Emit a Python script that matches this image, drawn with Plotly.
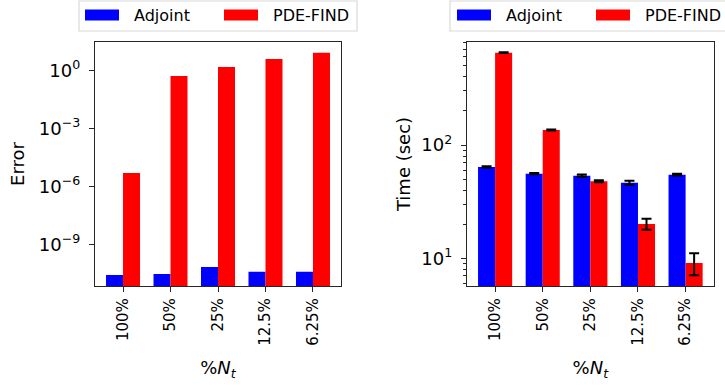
import plotly.graph_objects as go

# Data
categories = ["100%", "50%", "25%", "12.5%", "6.25%"]

error_adjoint = [2.7e-11, 3.0e-11, 7.0e-11, 3.9e-11, 3.9e-11]
error_pdefind = [5.1e-6, 0.53, 1.55, 4.0, 8.3]

time_adjoint = [64.0, 55.9, 53.6, 46.5, 54.7]
time_adjoint_err = [0.8, 0.6, 1.2, 1.8, 1.0]
time_pdefind = [653.0, 135.5, 48.0, 20.1, 9.1]
time_pdefind_err = [6.0, 1.5, 1.0, 2.2, 2.0]

BLUE = "#0000ff"
RED = "#ff0000"
FONT = "DejaVu Sans"
W, H = 725, 388

fig = go.Figure()

fig.add_trace(go.Bar(x=categories, y=error_adjoint, name="Adjoint",
                     marker=dict(color=BLUE, line=dict(width=0)),
                     xaxis="x", yaxis="y", showlegend=False))
fig.add_trace(go.Bar(x=categories, y=error_pdefind, name="PDE-FIND",
                     marker=dict(color=RED, line=dict(width=0)),
                     xaxis="x", yaxis="y", showlegend=False))

errbar = dict(type="data", visible=True, color="black", thickness=2, width=5)
fig.add_trace(go.Bar(x=categories, y=time_adjoint, name="Adjoint",
                     marker=dict(color=BLUE, line=dict(width=0)),
                     error_y=dict(array=time_adjoint_err, **errbar),
                     xaxis="x2", yaxis="y2", showlegend=False))
fig.add_trace(go.Bar(x=categories, y=time_pdefind, name="PDE-FIND",
                     marker=dict(color=RED, line=dict(width=0)),
                     error_y=dict(array=time_pdefind_err, **errbar),
                     xaxis="x2", yaxis="y2", showlegend=False))

ydom = [1 - 286 / H, 1 - 42 / H]
axis_common = dict(showline=True, linecolor="#262626", linewidth=1.3, mirror=True,
                   ticks="outside", tickcolor="#262626", ticklen=5, tickwidth=1,
                   showgrid=False, zeroline=False)
xtick_font = dict(family=FONT, size=15, color="black")
ytick_font = dict(family=FONT, size=18, color="black")
title_font = dict(family=FONT, size=18, color="black")

xtitle = dict(text="%<i>N<sub>t</sub></i>", font=title_font, standoff=16)

fig.update_layout(
    width=W, height=H,
    margin=dict(l=0, r=0, t=0, b=0),
    paper_bgcolor="white", plot_bgcolor="white",
    barmode="group", bargap=0.284, bargroupgap=0,
    font=dict(family=FONT, size=15, color="black"),
    xaxis=dict(domain=[95 / W, 341 / W], anchor="y", range=[-0.59, 4.59],
               tickangle=-90, tickfont=xtick_font, title=xtitle, **axis_common),
    yaxis=dict(domain=ydom, anchor="x", type="log", range=[-11.14, 1.48],
               tickvals=[1e-9, 1e-6, 1e-3, 1],
               ticktext=["10<sup>\u22129</sup>", "10<sup>\u22126</sup>",
                         "10<sup>\u22123</sup>", "10<sup>0</sup>"],
               tickfont=ytick_font, ticklabelstandoff=5,
               title=dict(text="Error", font=title_font, standoff=9),
               **axis_common),
    xaxis2=dict(domain=[467 / W, 713.7 / W], anchor="y2", range=[-0.59, 4.59],
                tickangle=-90, tickfont=xtick_font, title=xtitle, **axis_common),
    yaxis2=dict(domain=ydom, anchor="x2", type="log", range=[0.756, 2.909],
                tickvals=[10, 100], ticktext=["10<sup>1</sup>", "10<sup>2</sup>"],
                tickfont=ytick_font, ticklabelstandoff=5,
                minor=dict(ticks="outside", ticklen=3, tickcolor="#262626", tickwidth=1,
                           tickvals=[6, 7, 8, 9, 20, 30, 40, 50, 60, 70, 80, 90,
                                     200, 300, 400, 500, 600, 700, 800],
                           showgrid=False),
                title=dict(text="Time (sec)", font=title_font, standoff=6),
                **axis_common),
)


def add_legend(x_box0, x_box1, blue_x, blue_txt, red_x, red_txt):
    px = lambda v: v / W
    py = lambda v: 1 - v / H
    fig.add_shape(type="rect", xref="paper", yref="paper",
                  x0=px(x_box0), x1=px(x_box1), y0=py(31), y1=py(1),
                  line=dict(color="#d9d9d9", width=1.2), fillcolor="white", layer="above")
    for x0, color, tx, label in [(blue_x, BLUE, blue_txt, "Adjoint"),
                                 (red_x, RED, red_txt, "PDE-FIND")]:
        fig.add_shape(type="rect", xref="paper", yref="paper",
                      x0=px(x0), x1=px(x0 + 34), y0=py(20.5), y1=py(9.5),
                      line=dict(width=0), fillcolor=color, layer="above")
        fig.add_annotation(xref="paper", yref="paper", x=px(tx), y=py(15.5),
                           xanchor="left", yanchor="middle", showarrow=False,
                           text=label, font=dict(family=FONT, size=16, color="black"))


add_legend(79, 357, 85, 132, 224, 271)
add_legend(450, 745, 457, 504, 596, 643)

fig.write_html("out.html")
